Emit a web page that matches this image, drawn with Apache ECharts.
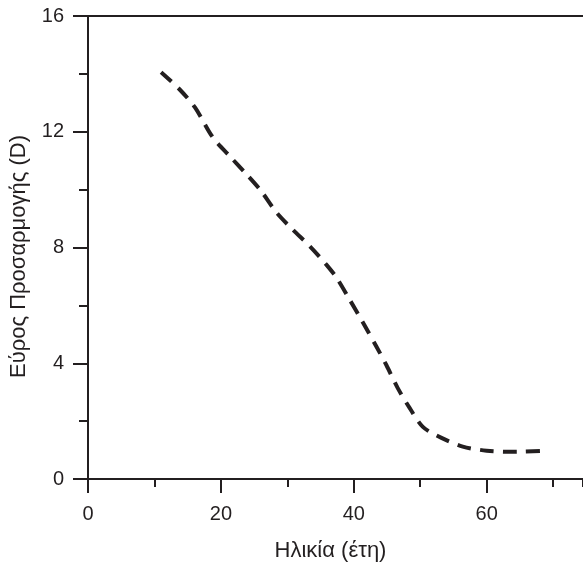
<!DOCTYPE html>
<html>
<head>
<meta charset="utf-8">
<script src="https://cdn.jsdelivr.net/npm/echarts@6/dist/echarts.min.js"></script>
<style>
  html, body { margin: 0; padding: 0; background: #fff; }
  #chart { width: 583px; height: 568px; }
</style>
</head>
<body>
<div id="chart"></div>
<script>
// age (years) vs accommodation amplitude (D)
const ages = [11, 13.8, 16.1, 18.8, 21.4, 23.9, 26.1, 28.4, 30.8, 33.4, 35.9, 37.4, 39.4, 41.4, 43.4, 44.9, 46.6, 48.4, 50.4, 53.2, 56.4, 60, 63.9, 68.4]
const amplitude = [14.06, 13.46, 12.84, 11.8, 11.14, 10.52, 9.94, 9.2, 8.62, 8.04, 7.4, 6.96, 6.19, 5.4, 4.58, 3.94, 3.15, 2.46, 1.8, 1.42, 1.12, 0.98, 0.94, 0.97]

const xName = 'Ηλικία (έτη)'
const yName = 'Εύρος Προσαρμογής (D)'
const xRange = [0, 74.5]
const yRange = [0, 16]

const ink = '#231f20'
const font = '"Liberation Sans", Arial, sans-serif'

const axisLine = { show: true, onZero: false, lineStyle: { color: ink, width: 2 } }

const chart = echarts.init(document.getElementById('chart'))

chart.setOption({
  animation: false,
  grid: { left: 88, right: 0, top: 16, bottom: 89 },
  xAxis: [
    {
      type: 'value', position: 'bottom', min: xRange[0], max: xRange[1], interval: 20,
      name: xName, nameLocation: 'middle', nameGap: 61,
      nameTextStyle: { color: ink, fontSize: 22, fontFamily: font, padding: [0, 10, 0, 0] },
      axisLine,
      axisTick: { show: true, length: 14, lineStyle: { color: ink, width: 2 } },
      axisLabel: { color: ink, fontSize: 20, fontFamily: font, margin: 25, showMaxLabel: false },
      splitLine: { show: false }
    },
    {
      // minor ticks every 10
      type: 'value', position: 'bottom', min: xRange[0], max: xRange[1], interval: 10,
      axisLine: { show: false },
      axisTick: { show: true, length: 8, lineStyle: { color: ink, width: 2 } },
      axisLabel: { show: false },
      splitLine: { show: false }
    },
    {
      // top frame line
      type: 'value', position: 'top', min: xRange[0], max: xRange[1],
      axisLine,
      axisTick: { show: false },
      axisLabel: { show: false },
      splitLine: { show: false }
    }
  ],
  yAxis: [
    {
      type: 'value', position: 'left', min: yRange[0], max: yRange[1], interval: 4,
      name: yName, nameLocation: 'middle', nameGap: 58,
      nameTextStyle: { color: ink, fontSize: 22, fontFamily: font, padding: [0, 18, 0, 0] },
      axisLine,
      axisTick: { show: true, length: 15, lineStyle: { color: ink, width: 2 } },
      axisLabel: { color: ink, fontSize: 20, fontFamily: font, margin: 24 },
      splitLine: { show: false }
    },
    {
      // minor ticks every 2
      type: 'value', position: 'left', min: yRange[0], max: yRange[1], interval: 2,
      axisLine: { show: false },
      axisTick: { show: true, length: 9, lineStyle: { color: ink, width: 2 } },
      axisLabel: { show: false },
      splitLine: { show: false }
    }
  ],
  series: [{
    type: 'line',
    xAxisIndex: 0,
    yAxisIndex: 0,
    data: ages.map((a, i) => [a, amplitude[i]]),
    smooth: 0.3,
    showSymbol: false,
    lineStyle: { color: ink, width: 4, type: [14, 9], cap: 'butt' }
  }]
})
</script>
</body>
</html>
